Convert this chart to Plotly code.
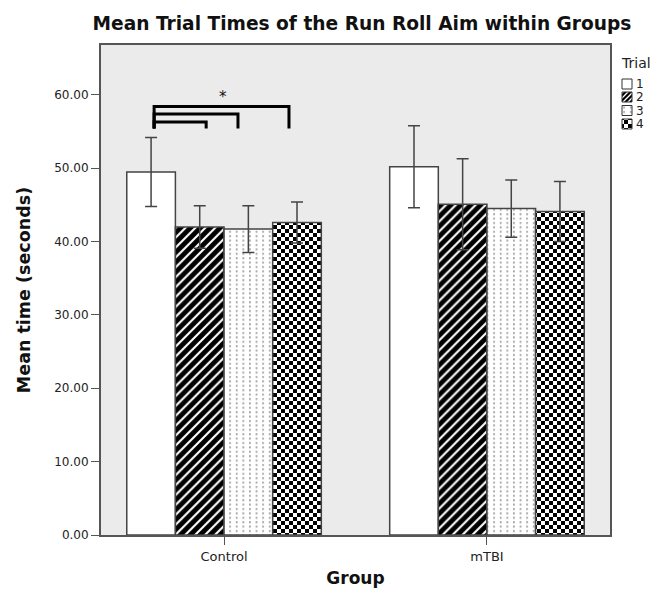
import plotly.graph_objects as go

groups = ["Control", "mTBI"]
trials = ["1", "2", "3", "4"]
means = {
    "1": [49.5, 50.2],
    "2": [42.0, 45.1],
    "3": [41.7, 44.5],
    "4": [42.6, 44.1],
}
errors = {
    "1": [4.7, 5.6],
    "2": [2.9, 6.2],
    "3": [3.2, 3.9],
    "4": [2.8, 4.1],
}
y_ticks = [0, 10, 20, 30, 40, 50, 60]
y_tick_labels = ["0.00", "10.00", "20.00", "30.00", "40.00", "50.00", "60.00"]

# significance brackets (data coords): left x, right x, top y
bracket_left = -0.266
bracket_bottom = 55.4
bracket_rights = [-0.068, 0.053, 0.247]
bracket_tops = [56.3, 57.4, 58.4]
star_pos = (-0.004, 59.7)

FONT = "DejaVu Sans"
EDGE = "#444444"

W, H = 655, 594
ML, MR, MT, MB = 101, 45, 45, 59
PW, PH = W - ML - MR, H - MT - MB


def px_x(x):
    return (x - ML) / PW


def px_y(y):
    return (H - MB - y) / PH


patterns = {
    "1": dict(shape="", bgcolor="white", fgcolor="white"),
    "2": dict(shape="/", bgcolor="black", fgcolor="white", size=7, solidity=0.3, fillmode="replace"),
    "3": dict(shape=".", bgcolor="white", fgcolor="#8a8a8a", size=5, solidity=0.12, fillmode="replace"),
    "4": dict(shape="x", bgcolor="white", fgcolor="black", size=7, solidity=0.45, fillmode="replace"),
}

fig = go.Figure()
for t in trials:
    fig.add_trace(go.Bar(
        name=t, x=[0, 1], y=means[t], showlegend=False,
        marker=dict(color="white", line=dict(color=EDGE, width=1.5), pattern=patterns[t]),
        error_y=dict(type="data", array=errors[t], color=EDGE, thickness=1.5, width=6),
    ))

shapes = []
for xr, yt in zip(bracket_rights, bracket_tops):
    shapes.append(dict(
        type="path", xref="x", yref="y",
        path=f"M {bracket_left},{bracket_bottom} L {bracket_left},{yt} L {xr},{yt} L {xr},{bracket_bottom}",
        line=dict(color="black", width=3),
    ))

# custom legend (swatches + labels), placed in pixels
legend_box_x = 627
legend_item_y = [84, 97, 110.5, 124]
annotations = [
    dict(x=star_pos[0], y=star_pos[1], xref="x", yref="y", text="*",
         showarrow=False, font=dict(size=15, color="#111")),
    dict(x=px_x(619), y=px_y(63), xref="paper", yref="paper", text="Trial",
         xanchor="left", yanchor="middle", showarrow=False, font=dict(size=14, color="#222")),
]
swatch_index = {}
for t, yy in zip(trials, legend_item_y):
    swatch_index[t] = len(shapes)
    shapes.append(dict(
        type="rect", xref="paper", yref="paper", xsizemode="pixel", ysizemode="pixel",
        xanchor=px_x(legend_box_x), yanchor=px_y(yy), x0=-5, x1=5, y0=-5, y1=5,
        fillcolor="white", line=dict(color="#333", width=1), layer="above",
    ))
    annotations.append(dict(
        x=px_x(634), y=px_y(yy), xref="paper", yref="paper", text=t,
        xanchor="left", yanchor="middle", showarrow=False, font=dict(size=12, color="#222"),
    ))

fig.update_layout(
    width=W, height=H,
    margin=dict(l=ML, r=MR, t=MT, b=MB, autoexpand=False),
    paper_bgcolor="white", plot_bgcolor="#ebebeb",
    barmode="group", bargap=0.26, bargroupgap=0,
    font=dict(family=FONT, size=13, color="#222"),
    showlegend=False,
    title=dict(text="<b>Mean Trial Times of the Run Roll Aim within Groups</b>",
               x=362 / W, xanchor="center", y=1 - 23 / H, yanchor="middle",
               font=dict(size=18.6, color="#111")),
    xaxis=dict(range=[-0.468, 1.468], tickvals=[0, 1], ticktext=groups,
               showline=True, mirror=True, linecolor="#555", linewidth=2,
               ticks="outside", ticklen=8, tickcolor="#555", showgrid=False, zeroline=False,
               title=dict(text="<b>Group</b>", font=dict(size=17, color="#111"), standoff=10),
               tickfont=dict(size=13)),
    yaxis=dict(range=[0, 66.8], tickvals=y_ticks, ticktext=y_tick_labels,
               showline=True, mirror=True, linecolor="#555", linewidth=2,
               ticks="outside", ticklen=8, tickcolor="#555", showgrid=False, zeroline=False,
               title=dict(text="<b>Mean time (seconds)</b>", font=dict(size=17.5, color="#111"), standoff=19),
               tickfont=dict(size=12)),
    shapes=shapes,
    annotations=annotations,
)

post_js = """
(function(){
document.documentElement.style.margin = '0';
document.body.style.margin = '0';
document.body.style.padding = '0';
var gd = document.getElementById('{plot_id}');
var ns = 'http://www.w3.org/2000/svg';
var SW = %s;
function mk(tag, attrs){ var e = document.createElementNS(ns, tag); for (var k in attrs) e.setAttribute(k, attrs[k]); return e; }
function apply(){
  var svg = gd.querySelector('svg.main-svg');
  if (!svg) return;
  var defs = svg.querySelector('defs');
  if (!defs) { defs = mk('defs', {}); svg.insertBefore(defs, svg.firstChild); }
  if (!svg.querySelector('#chk4')) {
    var p = mk('pattern', {id: 'chk4', patternUnits: 'userSpaceOnUse', width: '8', height: '8'});
    p.appendChild(mk('rect', {x: 0, y: 0, width: 8, height: 8, fill: 'white'}));
    p.appendChild(mk('rect', {x: 0, y: 0, width: 4, height: 4, fill: 'black'}));
    p.appendChild(mk('rect', {x: 4, y: 4, width: 4, height: 4, fill: 'black'}));
    defs.appendChild(p);
    var q = mk('pattern', {id: 'dot3', patternUnits: 'userSpaceOnUse', width: '6.6', height: '4.4'});
    q.appendChild(mk('rect', {x: 0, y: 0, width: 6.6, height: 4.4, fill: 'white'}));
    q.appendChild(mk('rect', {x: 3, y: 1, width: 1.4, height: 2, fill: '#8c8c8c'}));
    defs.appendChild(q);
    var s = mk('pattern', {id: 'str2', patternUnits: 'userSpaceOnUse', width: '5', height: '5'});
    s.appendChild(mk('rect', {x: 0, y: 0, width: 5, height: 5, fill: 'black'}));
    s.appendChild(mk('path', {d: 'M0,5 L5,0 M-1,1 L1,-1 M4,6 L6,4', stroke: 'white', 'stroke-width': 1.3}));
    defs.appendChild(s);
  }
  var ids = {2: 'dot3', 3: 'chk4'};
  var traces = gd.querySelectorAll('.barlayer .trace');
  for (var i in ids) {
    if (traces[i]) traces[i].querySelectorAll('.point path').forEach(function(el){ el.style.fill = 'url(#' + ids[i] + ')'; });
  }
  var swIds = {'2': 'str2', '3': 'dot3', '4': 'chk4'};
  for (var t in swIds) {
    gd.querySelectorAll('.shapelayer path[data-index="' + SW[t] + '"]').forEach(function(el){
      el.style.fill = 'url(#' + swIds[t] + ')'; el.style.fillOpacity = 1;
    });
  }
}
apply();
if (gd.on) gd.on('plotly_afterplot', apply);
})();
""" % str(swatch_index).replace("'", '"')

fig.write_html("out.html", post_script=post_js, config={"displayModeBar": False})
